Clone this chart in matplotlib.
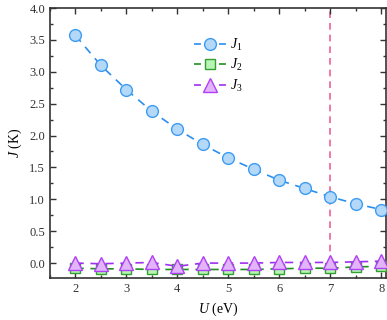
import matplotlib
matplotlib.use("Agg")
import matplotlib.pyplot as plt
from matplotlib.ticker import MultipleLocator
from matplotlib.lines import Line2D

plt.rcParams['font.family'] = ['Liberation Serif', 'DejaVu Serif']
plt.rcParams['mathtext.fontset'] = 'custom'
plt.rcParams['mathtext.it'] = 'Liberation Serif:italic'
plt.rcParams['mathtext.rm'] = 'Liberation Serif'

U = [2, 2.5, 3, 3.5, 4, 4.5, 5, 5.5, 6, 6.5, 7, 7.5, 8]
J1 = [3.57, 3.10, 2.72, 2.38, 2.10, 1.86, 1.65, 1.47, 1.30, 1.17, 1.04, 0.93, 0.84]
J2 = [-0.08, -0.09, -0.09, -0.10, -0.10, -0.10, -0.10, -0.10, -0.09, -0.08, -0.08, -0.06, -0.05]
J3 = [0.00, -0.01, 0.00, 0.01, -0.05, 0.00, 0.00, 0.00, 0.01, 0.01, 0.01, 0.02, 0.03]
labels = ['$J_1$', '$J_2$', '$J_3$']
U_mark = 7

fig = plt.figure(figsize=(3.87, 3.20), dpi=100)
ax = fig.add_axes([0.129, 0.130, 0.869, 0.845])

ax.vlines(U_mark, 0.0, 4.0, colors='#f0609a', linestyles=(0, (4, 3)), lw=1.2, zorder=1)

styles = [
    dict(color='#2a8ff0', marker='o', ms=8.5, mfc='#b4d8f8', mec='#3d9cf2'),
    dict(color='#209020', marker='s', ms=7.5, mfc='#b8f5b4', mec='#30a030'),
    dict(color='#a030f0', marker='^', ms=9.5, mfc='#e2b4fa', mec='#b040f5'),
]
series = [J1, J2, J3]
handles = []
for i, (ys, st, lab) in enumerate(zip(series, styles, labels)):
    ax.plot(U, ys, ls=(0, (5, 4)), lw=1.2, mew=1.0, zorder=3 + (i == 2), **st)
    handles.append(Line2D([], [], ls=(0, (5 / 1.2, 13 / 1.2)), lw=1.2, mew=1.0, **st))

ax.set_xlim(1.5, 8.1)
ax.set_ylim(-0.24, 4.0)
ax.xaxis.set_major_locator(MultipleLocator(1))
ax.xaxis.set_minor_locator(MultipleLocator(0.5))
ax.yaxis.set_major_locator(MultipleLocator(0.5))
ax.yaxis.set_minor_locator(MultipleLocator(0.25))
ax.tick_params(which='both', direction='in', top=True, right=True, labelsize=9, colors='#333333')
ax.tick_params(which='major', length=4, width=1)
ax.tick_params(which='minor', length=2.5, width=1)
for s in ax.spines.values():
    s.set_linewidth(1.2)
    s.set_color('#333333')

ax.set_xlabel('$U$ (eV)', fontsize=10)
ax.set_ylabel('$J$ (K)', fontsize=10)

leg = ax.legend(handles, labels, loc='upper left', bbox_to_anchor=(0.39, 0.94), frameon=False,
                fontsize=10, handlelength=2.3, labelspacing=0.32, handletextpad=0.3)

fig.savefig('out.png', dpi=100)
